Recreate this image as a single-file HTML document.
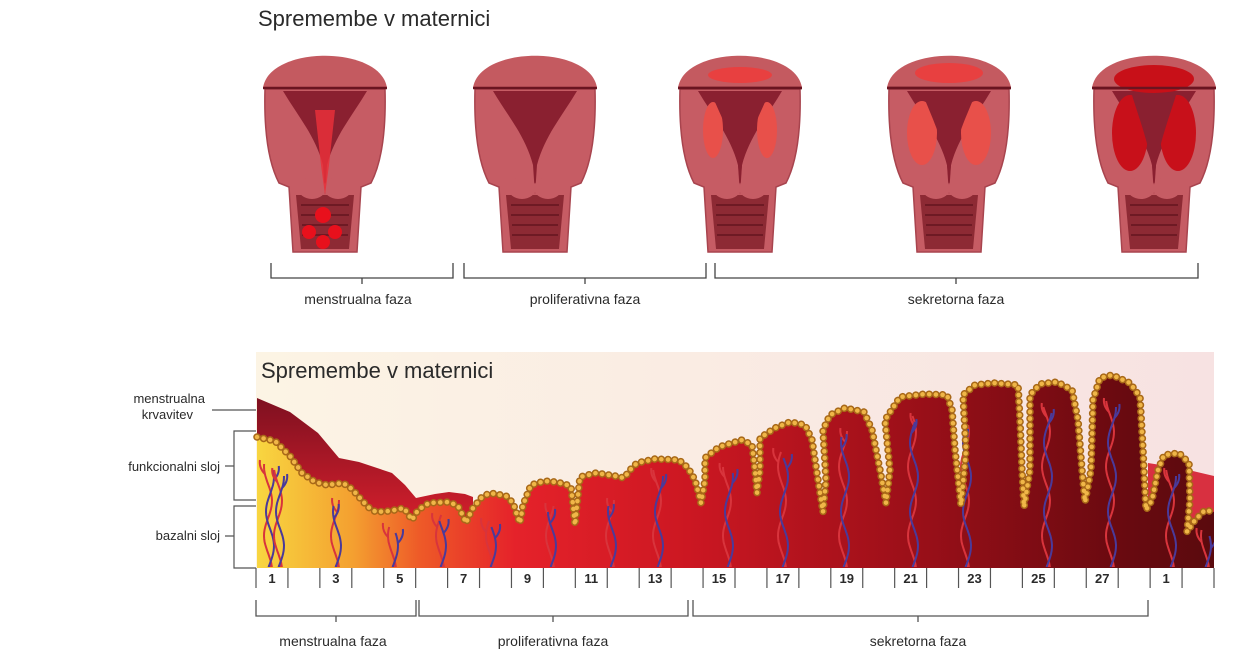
<!DOCTYPE html>
<html><head><meta charset="utf-8"><style>
html,body{margin:0;padding:0;background:#fff;}
svg{display:block;}
text{font-family:"Liberation Sans","DejaVu Sans",sans-serif;fill:#2a2a2a;}
</style></head><body>
<svg id="s" width="1254" height="665" viewBox="0 0 1254 665" xmlns="http://www.w3.org/2000/svg">
<defs>
<clipPath id="pc"><rect x="256" y="352" width="958" height="216"/></clipPath>
<linearGradient id="bg" x1="0" x2="1" y1="0" y2="0"><stop offset="0" stop-color="#fcf4e4"/><stop offset="1" stop-color="#f7e2e2"/></linearGradient>
<linearGradient id="tis" gradientUnits="userSpaceOnUse" x1="257" x2="1214" y1="0" y2="0">
<stop offset="0" stop-color="#f8d640"/><stop offset="0.1" stop-color="#f4a030"/><stop offset="0.17" stop-color="#ee5a28"/><stop offset="0.27" stop-color="#e5222a"/><stop offset="0.45" stop-color="#cc1722"/><stop offset="0.7" stop-color="#980f18"/><stop offset="0.9" stop-color="#6a0a10"/><stop offset="1" stop-color="#5a0a0e"/></linearGradient>
<linearGradient id="men" x1="0" x2="0" y1="0" y2="1"><stop offset="0" stop-color="#7e1020"/><stop offset="1" stop-color="#d41f2c"/></linearGradient>
<g id="ut">
<path d="M0,33 C6,-10 118,-10 124,33 Z" fill="#c45a60"/>
<path d="M2,34 L122,34 C123,70 120,105 108,128 L98,132 L94,197 L30,197 L26,132 L16,128 C4,105 1,70 2,34Z" fill="#c65c64" stroke="#a8444e" stroke-width="1.5"/>
<path d="M33,140 L91,140 L86,194 L38,194 Z" fill="#8d2a34"/>
<path d="M38,150H86M38,160H86M39,170H85M39,180H85" stroke="#6e1a24" stroke-width="2"/>
<path d="M20,36 L104,36 C90,60 72,80 64,110 L62,140 L60,110 C52,80 34,60 20,36Z" fill="#8a2030"/>
<ellipse cx="49" cy="133" rx="14" ry="11" fill="#c65c64"/>
<ellipse cx="75" cy="133" rx="14" ry="11" fill="#c65c64"/>
<path d="M0,33 L124,33" stroke="#6a1420" stroke-width="2.5"/>
</g>
</defs>

<text x="258" y="26" font-size="22">Spremembe v maternici</text>

<g transform="translate(263,55)"><use href="#ut"/>
<path d="M52,55 L72,55 L66,110 L62,140 L58,110Z" fill="#e8303a" opacity="0.85"/>
<g fill="#e8101c"><circle cx="60" cy="160" r="8"/><circle cx="46" cy="177" r="7"/><circle cx="72" cy="177" r="7"/><circle cx="60" cy="187" r="7"/></g></g>
<g transform="translate(473,55)"><use href="#ut"/></g>
<g transform="translate(678,55)"><use href="#ut"/>
<ellipse cx="62" cy="20" rx="32" ry="8" fill="#e84040"/><path d="M0,33 L124,33" stroke="#6a1420" stroke-width="2.5"/>
<ellipse cx="35" cy="75" rx="10" ry="28" fill="#e8504a"/><ellipse cx="89" cy="75" rx="10" ry="28" fill="#e8504a"/>
<path d="M34,40 L90,40 C82,60 70,80 64,110 L62,130 L60,110 C54,80 42,60 34,40Z" fill="#8a2030"/></g>
<g transform="translate(887,55)"><use href="#ut"/>
<ellipse cx="62" cy="18" rx="34" ry="10" fill="#e84040"/><path d="M0,33 L124,33" stroke="#6a1420" stroke-width="2.5"/>
<ellipse cx="35" cy="78" rx="15" ry="32" fill="#e8504a"/><ellipse cx="89" cy="78" rx="15" ry="32" fill="#e8504a"/>
<path d="M36,40 L88,40 C80,60 70,80 64,110 L62,130 L60,110 C54,80 44,60 36,40Z" fill="#8a2030"/></g>
<g transform="translate(1092,55)"><use href="#ut"/>
<ellipse cx="62" cy="24" rx="40" ry="14" fill="#c81018"/><path d="M0,33 L124,33" stroke="#6a1420" stroke-width="2.5"/>
<ellipse cx="38" cy="78" rx="18" ry="38" fill="#c8101a"/><ellipse cx="86" cy="78" rx="18" ry="38" fill="#c8101a"/>
<path d="M40,40 L84,40 C78,60 70,80 64,110 L62,130 L60,110 C54,80 46,60 40,40Z" fill="#8a2030"/></g>

<g stroke="#444" stroke-width="1.3" fill="none">
<path d="M271,263V278H453V263M362,278V284"/>
<path d="M464,263V278H706V263M585,278V284"/>
<path d="M715,263V278H1198V263M956,278V284"/>
</g>
<text x="358" y="304" font-size="14" text-anchor="middle">menstrualna faza</text>
<text x="585" y="304" font-size="14" text-anchor="middle">proliferativna faza</text>
<text x="956" y="304" font-size="14" text-anchor="middle">sekretorna faza</text>

<rect x="256" y="352" width="958" height="216" fill="url(#bg)"/>
<text x="261" y="378" font-size="22">Spremembe v maternici</text>
<polygon points="1148,463 1180,468 1214,476 1214,568 1148,568" fill="#d83040"/>
<path id="surfFill" fill="url(#tis)"/>
<path id="menF" fill="url(#men)"/>
<g id="ves" fill="none" stroke-width="2" clip-path="url(#pc)"></g>
<path id="dots1" fill="none" stroke="#a86818" stroke-width="7.5" stroke-linecap="round" stroke-dasharray="0.1 6.6"/>
<path id="dots2" fill="none" stroke="#f0b648" stroke-width="4.5" stroke-linecap="round" stroke-dasharray="0.1 6.6"/>

<text x="205" y="403" font-size="13" text-anchor="end">menstrualna</text>
<text x="193" y="419" font-size="13" text-anchor="end">krvavitev</text>
<g stroke="#555" stroke-width="1.2" fill="none">
<path d="M212,410H256"/>
<path d="M256,431H234V500H256M234,466H225"/>
<path d="M256,506H234V568H256M234,536H225"/>
</g>
<text x="220" y="471" font-size="13" text-anchor="end">funkcionalni sloj</text>
<text x="220" y="540" font-size="13" text-anchor="end">bazalni sloj</text>

<g id="ticks" stroke="#555" stroke-width="1.2"></g>
<g id="nums" font-family="Liberation Serif,serif" font-weight="bold" font-size="13"></g>

<g stroke="#555" stroke-width="1.3" fill="none">
<path d="M256,600V616H416V600M336,616V622"/>
<path d="M419,600V616H688V600M553,616V622"/>
<path d="M693,600V616H1148V600M918,616V622"/>
</g>
<text x="333" y="646" font-size="14" text-anchor="middle">menstrualna faza</text>
<text x="553" y="646" font-size="14" text-anchor="middle">proliferativna faza</text>
<text x="918" y="646" font-size="14" text-anchor="middle">sekretorna faza</text>
</svg>
<script>
(function(){
var NS="http://www.w3.org/2000/svg";
var pts=[[257,437],[275,441],[290,456],[302,473],[315,482],[327,485],[343,483],[352,489],[359,497],[368,507],[376,512],[390,511],[404,508],[408,514],[412,520],[418,510],[429,503],[449,502],[458,506],[463,516],[466,523],[469,516],[473,508],[482,497],[490,493],[506,496],[513,503],[517,515],[520,523],[523,505],[531,485],[545,481],[555,482],[565,484],[571,487],[573,505],[575,525],[577,505],[580,477],[596,473],[615,476],[624,478],[630,470],[637,463],[655,459],[679,460],[688,468],[695,480],[699,495],[701,503],[705,480],[705,458],[719,447],[742,440],[752,445],[755,470],[757,493],[760,470],[760,438],[775,428],[790,422],[805,425],[812,440],[818,480],[823,512],[826,480],[823,430],[830,415],[845,408],[864,412],[872,430],[880,470],[886,503],[890,470],[885,420],[900,397],[925,394],[947,395],[952,410],[955,450],[961,505],[966,450],[963,395],[975,385],[994,383],[1018,385],[1020,420],[1022,470],[1024,507],[1030,470],[1030,395],[1040,384],[1057,382],[1072,390],[1078,420],[1082,470],[1085,502],[1091,470],[1093,400],[1100,378],[1112,375],[1130,383],[1140,397],[1143,450],[1146,510],[1152,500],[1158,470],[1164,455],[1179,453],[1189,463],[1190,500],[1187,532],[1195,520],[1205,510],[1214,512]];
var line="M"+pts.map(function(p){return p.join(",")}).join(" L");
document.getElementById("dots1").setAttribute("d",line);
document.getElementById("dots2").setAttribute("d",line);
document.getElementById("surfFill").setAttribute("d",line+" L1214,568 L257,568 Z");
var topLine=[[257,398],[290,412],[318,433],[339,458],[359,462],[392,473],[405,485],[416,498],[435,494],[449,492],[465,494],[473,497]];
var back=[];for(var i=0;i<pts.length;i++){if(pts[i][0]<=473)back.push(pts[i]);}
back.reverse();
document.getElementById("menF").setAttribute("d","M"+topLine.concat(back).map(function(p){return p.join(",")}).join(" L")+"Z");
var v=[[268,462],[278,470],[335,500],[392,525],[440,515],[490,520],[550,505],[610,500],[657,470],[727,465],[782,450],[843,430],[912,415],[965,425],[1046,405],[1110,400],[1170,470],[1205,530]];
var g=document.getElementById("ves");
function wave(x,t,ph,amp,col){var d="M"+x+",566";for(var y=566;y>=t;y-=3){d+=" L"+(x+amp*Math.sin((y/11)+ph)).toFixed(1)+","+y;}
var p=document.createElementNS(NS,"path");p.setAttribute("d",d);p.setAttribute("stroke",col);g.appendChild(p);
var b=document.createElementNS(NS,"path");var by=t+12;var bx=x+amp*Math.sin((by/11)+ph);b.setAttribute("d","M"+bx.toFixed(1)+","+by+" q"+(ph>1?6:-6)+",-6 "+(ph>1?5:-5)+",-14");b.setAttribute("stroke",col);g.appendChild(b);}
v.forEach(function(a){wave(a[0],a[1],0,4,"#d8343c");wave(a[0]+2,a[1]+6,2.2,4,"#4a3a9a");});
var tk=document.getElementById("ticks"),nm=document.getElementById("nums");var w=958/30;
var labs=["1","","3","","5","","7","","9","","11","","13","","15","","17","","19","","21","","23","","25","","27","","1",""];
for(var k=0;k<=30;k++){var x=256+k*w;var l=document.createElementNS(NS,"line");l.setAttribute("x1",x);l.setAttribute("x2",x);l.setAttribute("y1",568);l.setAttribute("y2",588);tk.appendChild(l);
if(k<30&&labs[k]){var t=document.createElementNS(NS,"text");t.setAttribute("x",x+w/2);t.setAttribute("y",583);t.setAttribute("text-anchor","middle");t.textContent=labs[k];nm.appendChild(t);}}
})();
</script>
</body></html>
